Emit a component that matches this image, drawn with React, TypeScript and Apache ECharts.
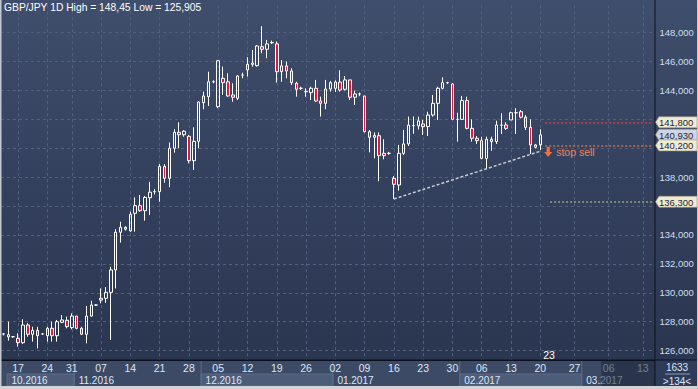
import React, { useEffect, useRef } from "react";
import * as echarts from "echarts";

// ---------- text ----------
const TITLE = "GBP/JPY 1D High = 148,45 Low = 125,905";
const BAR_COUNT_TOTAL = "1633";
const BAR_COUNT_VISIBLE = ">134<";

// ---------- calendar (categories) ----------
const FIRST_SESSION = "2016-10-13";
const LAST_SESSION = "2017-02-20";
const SKIPPED_SESSIONS = ["2016-10-30"];
const FIRST_PROJECTED_DAY = "2017-02-21";
const LAST_PROJECTED_DAY = "2017-03-15";

function dayList(from: string, to: string): string[] {
  const out: string[] = [];
  const d = new Date(from + "T00:00:00Z");
  const end = new Date(to + "T00:00:00Z");
  while (d <= end) {
    out.push(d.toISOString().slice(0, 10));
    d.setUTCDate(d.getUTCDate() + 1);
  }
  return out;
}
const weekday = (s: string) => new Date(s + "T00:00:00Z").getUTCDay();
const isMonday = (s: string) => weekday(s) === 1;

const sessionDates = dayList(FIRST_SESSION, LAST_SESSION).filter(
  (s) => weekday(s) !== 6 && !SKIPPED_SESSIONS.includes(s)
);
const projectedDates = dayList(FIRST_PROJECTED_DAY, LAST_PROJECTED_DAY);
const categories = [...sessionDates, ...projectedDates];

// ---------- OHLC ----------
const opens = [
  127.15, 126.95, 126.96, 126.85, 126.55, 127.77, 127.13, 127.4, 127.15, 127.03,
  127.54, 127.03, 127.95, 128.1, 127.59, 128.39, 127.54, 127.13, 128.39, 129.15,
  129.5, 129.62, 130.03, 131.58, 134.19, 134.53, 134.28, 135.5, 136.03, 135.68,
  136.58, 137.0, 137.0, 138.75, 137.92, 140.0, 141.1, 140.94, 140.83, 139.14,
  140.48, 143.16, 143.57, 144.6, 142.88, 144.84, 144.6, 143.69, 143.46, 145.07,
  145.42, 145.81, 145.72, 147.03, 146.85, 147.31, 147.22, 145.3, 145.7, 145.35,
  144.5, 144.15, 143.92, 143.85, 144.15, 143.27, 143.11, 144.1, 144.15, 144.58,
  144.08, 144.73, 143.53, 143.76, 143.62, 141.15, 140.76, 140.87, 139.65, 139.65,
  137.92, 137.46, 139.65, 140.3, 141.57, 141.55, 141.68, 141.5, 142.3, 143.11,
  144.15, 144.54, 144.45, 142.0, 142.0, 143.3, 141.38, 140.69, 140.53, 139.3,
  140.62, 140.46, 141.6, 141.61, 141.96, 142.46, 142.53, 142.15, 141.45, 140.23,
  140.23,
];
const closes = [
  127.15, 127.1, 126.96, 126.55, 127.77, 127.13, 127.4, 127.03, 127.15, 127.54,
  127.03, 128.0, 128.12, 127.66, 128.39, 127.54, 127.13, 128.39, 129.15, 129.15,
  129.62, 130.03, 131.58, 134.19, 134.53, 134.4, 135.43, 136.03, 135.68, 136.6,
  136.96, 137.0, 138.75, 137.92, 140.0, 141.1, 140.94, 141.18, 139.14, 140.48,
  143.2, 143.62, 144.6, 144.6, 146.06, 144.54, 143.62, 143.53, 145.0, 145.07,
  145.81, 145.9, 147.08, 146.85, 147.22, 147.31, 145.3, 145.7, 145.35, 144.54,
  144.08, 144.15, 143.92, 144.15, 143.27, 143.11, 144.1, 144.54, 144.58, 144.03,
  144.73, 143.53, 143.76, 143.76, 141.15, 140.76, 140.9, 139.49, 139.49, 139.65,
  137.51, 139.65, 140.3, 141.6, 141.57, 141.89, 141.5, 142.3, 143.11, 144.15,
  144.54, 144.54, 142.0, 142.0, 143.3, 141.38, 140.69, 140.53, 139.3, 140.62,
  140.46, 141.61, 141.6, 141.38, 142.46, 142.46, 142.15, 141.45, 140.23, 140.07,
  140.93,
];
const lows = [
  127.05, 126.69, 126.9, 126.27, 126.46, 126.96, 126.62, 126.15, 127.1, 126.62,
  126.62, 126.62, 127.9, 127.54, 127.47, 127.47, 127.08, 126.5, 128.35, 129.1,
  129.27, 129.3, 126.73, 130.3, 133.47, 134.3, 134.23, 134.23, 135.61, 134.99,
  135.38, 136.8, 136.3, 137.62, 137.3, 139.7, 140.0, 140.8, 138.96, 138.5,
  140.0, 142.7, 142.93, 144.5, 142.77, 143.69, 143.57, 143.22, 143.34, 144.84,
  144.96, 145.65, 145.65, 146.57, 146.23, 147.22, 144.54, 144.6, 144.84, 144.38,
  143.57, 144.03, 143.57, 143.34, 143.22, 142.19, 142.7, 143.92, 143.9, 143.92,
  143.99, 143.34, 143.0, 143.6, 141.1, 139.72, 139.3, 137.72, 139.24, 139.55,
  136.49, 137.07, 139.54, 140.16, 141.0, 141.3, 140.92, 140.85, 142.19, 141.96,
  144.08, 144.45, 141.96, 140.46, 141.96, 141.31, 140.46, 140.3, 139.24, 138.55,
  139.83, 140.3, 140.99, 141.27, 141.96, 140.99, 142.07, 141.27, 139.6, 139.99,
  139.88,
];
const highs = [
  127.2, 128.0, 127.0, 127.2, 128.17, 127.9, 127.65, 127.65, 127.2, 127.65,
  128.0, 128.12, 128.46, 128.35, 128.58, 128.39, 127.65, 129.08, 129.45, 129.2,
  130.3, 130.4, 131.8, 134.4, 134.92, 134.6, 135.61, 136.6, 136.77, 136.7,
  137.67, 137.17, 138.9, 138.9, 140.4, 141.31, 141.8, 141.25, 140.92, 141.45,
  143.25, 143.92, 145.3, 144.7, 146.1, 145.65, 145.19, 144.5, 145.07, 145.23,
  146.3, 146.8, 147.15, 148.45, 147.5, 147.45, 147.38, 146.1, 146.0, 145.54,
  144.6, 144.26, 144.15, 144.26, 144.73, 143.57, 144.73, 144.66, 144.7, 145.4,
  145.0, 144.73, 143.99, 143.85, 143.62, 141.27, 141.1, 141.1, 140.62, 139.75,
  138.08, 140.23, 141.27, 142.19, 142.2, 142.19, 141.96, 142.53, 143.69, 144.26,
  144.91, 144.6, 144.5, 142.46, 143.62, 143.57, 142.0, 140.85, 140.8, 140.8,
  140.8, 141.91, 142.42, 141.8, 142.53, 142.77, 142.65, 142.3, 142.0, 140.3,
  141.31,
];

// ---------- axis ticks / annotations ----------
const yTicks = [126, 128, 130, 132, 134, 136, 138, 140, 142, 144, 146, 148];
const priceTags = [
  { value: 141.8, fill: "#f0ebd0" },
  { value: 140.93, fill: "#cfd5e2" },
  { value: 140.2, fill: "#f0ebd0" },
  { value: 136.3, fill: "#f0ebd0" },
];
const levelLines = [
  { value: 141.8, from: "2017-02-21", color: "#d23a3a" },
  { value: 140.2, from: "2017-02-21", color: "#c4704e" },
  { value: 136.3, from: "2017-02-22", color: "#95a378" },
];
const trendStart = { date: "2017-01-16", price: 136.49 };
const trendEnd = { date: "2017-02-20", price: 139.8 };
const stopSell = { date: "2017-02-21", price: 139.75, text: "stop sell" };
const cursorMark = { date: "2017-02-22", text: "23" };
const monthBands = [
  { label: "10.2016", start: "2016-10-13" },
  { label: "11.2016", start: "2016-11-01" },
  { label: "12.2016", start: "2016-12-01" },
  { label: "01.2017", start: "2017-01-02" },
  { label: "02.2017", start: "2017-02-01" },
  { label: "03.2017", start: "2017-03-01" },
];
const shadeFrom = "2017-03-05";

// ---------- layout ----------
const W = 698;
const H = 389;
const PLOT_RIGHT = 655;
const AXIS_Y = 360;
const PANEL_BOTTOM = 386;
const FONT = '"Liberation Sans", Arial, sans-serif';

const fmtPrice = (v: number) => v.toFixed(3).replace(".", ",");
// a tick label that lies under a price tag is hidden by it in the reference
const coveredByTag = (v: number) => priceTags.some((t) => Math.abs(t.value - v) < 0.6);

export default function App() {
  const ref = useRef<HTMLDivElement>(null);

  useEffect(() => {
    if (!ref.current) return;
    const chart = echarts.init(ref.current, undefined, { renderer: "svg" });

    const candleData = sessionDates.map((d, i) => [opens[i], closes[i], lows[i], highs[i]]);
    const lastCat = categories[categories.length - 1];

    const markLines: any[] = levelLines.map((l) => [
      {
        coord: [l.from, l.value],
        lineStyle: { color: l.color, type: [2, 2], width: 1.5 },
      },
      { coord: [lastCat, l.value] },
    ]);
    markLines.push([
      {
        coord: [trendStart.date, trendStart.price],
        lineStyle: { color: "#c6cbd5", type: [3, 2], width: 1.5 },
      },
      { coord: [trendEnd.date, trendEnd.price] },
    ]);

    const option: any = {
      animation: false,
      textStyle: { fontFamily: FONT },
      title: {
        text: TITLE,
        left: 4,
        top: 2,
        padding: 0,
        textStyle: { color: "#ffffff", fontSize: 10.3, fontWeight: "normal", fontFamily: FONT },
      },
      grid: { left: 1, right: W - PLOT_RIGHT, top: 5.2, bottom: 9.5, containLabel: false },
      xAxis: [
        {
          type: "category",
          data: categories,
          position: "bottom",
          boundaryGap: true,
          z: 0,
          axisLine: { show: false },
          axisTick: { show: false },
          axisLabel: { show: false },
          splitLine: {
            show: true,
            interval: (_i: number, v: string) => isMonday(v),
            alignWithLabel: true,
            lineStyle: { color: "#51607e", type: [3, 3], width: 1 },
          },
        },
        {
          type: "category",
          data: categories,
          position: "bottom",
          boundaryGap: true,
          offset: -19.5,
          z: 20,
          axisLine: { show: true, lineStyle: { color: "#0c111c", width: 1 } },
          axisTick: { show: false },
          axisLabel: {
            interval: (_i: number, v: string) => isMonday(v),
            formatter: (v: string) => v.slice(8, 10),
            color: "#dce6f4",
            fontSize: 10.5,
            margin: 2.5,
            fontFamily: FONT,
          },
          splitLine: { show: false },
        },
      ],
      yAxis: {
        type: "value",
        position: "right",
        min: yTicks[0] - 2,
        max: 149.9,
        interval: 2,
        z: 0,
        axisLine: { show: false },
        axisTick: { show: false },
        axisLabel: {
          showMinLabel: false,
          showMaxLabel: false,
          formatter: (v: number) => (yTicks.includes(v) && !coveredByTag(v) ? fmtPrice(v) : ""),
          color: "#cfdff3",
          fontSize: 9.5,
          margin: 4.5,
          fontFamily: FONT,
        },
        splitLine: {
          show: true,
          showMinLine: false,
          showMaxLine: false,
          lineStyle: { color: "#51607e", type: [3, 3], width: 1 },
        },
      },
      series: [
        {
          type: "candlestick",
          xAxisIndex: 0,
          yAxisIndex: 0,
          data: candleData,
          barWidth: 3,
          itemStyle: {
            color: "transparent",
            color0: "#e5173e",
            borderColor: "#ffffff",
            borderColor0: "#ffffff",
            borderWidth: 1,
          },
          markLine: {
            silent: true,
            symbol: ["none", "none"],
            label: { show: false },
            data: markLines,
          },
          markPoint: {
            silent: true,
            data: [
              {
                coord: [stopSell.date, stopSell.price],
                symbol: "path://M3,0L7,0L7,5L10,5L5,10L0,5L3,5Z",
                symbolSize: [8, 10],
                symbolOffset: [3, 0],
                itemStyle: { color: "#f0703f" },
                label: {
                  show: true,
                  position: "right",
                  distance: 4,
                  formatter: stopSell.text,
                  color: "#f2805e",
                  fontSize: 10.5,
                  fontFamily: FONT,
                },
              },
            ],
          },
        },
      ],
    };
    chart.setOption(option);

    // ---------- decorations positioned through the chart's own scales ----------
    const px = (d: string) => chart.convertToPixel({ xAxisIndex: 0 }, d) as number;
    const py = (v: number) => chart.convertToPixel({ yAxisIndex: 0 }, v) as number;
    const slot = px(categories[1]) - px(categories[0]);

    const g: any[] = [];
    // bottom panel
    g.push({
      type: "rect",
      z: 10,
      shape: { x: 0, y: AXIS_Y, width: PLOT_RIGHT, height: PANEL_BOTTOM - AXIS_Y },
      style: { fill: "#3c4a66" },
    });
    monthBands.forEach((m, i) => {
      let x0 = px(m.start) - slot / 2;
      if (i === 0) x0 += 6;
      const x1 = i < monthBands.length - 1 ? px(monthBands[i + 1].start) - slot / 2 : PLOT_RIGHT;
      if (i % 2 === 0) {
        g.push({
          type: "rect",
          z: 11,
          shape: { x: x0, y: 374, width: x1 - x0, height: 12 },
          style: { fill: "#4d5c79", stroke: "#5d6c88", lineWidth: 1 },
        });
      }
      if (i > 0) {
        g.push({
          type: "line",
          z: 12,
          shape: { x1: x0, y1: AXIS_Y + 1, x2: x0, y2: PANEL_BOTTOM },
          style: { stroke: "#5b6a86", lineWidth: 1 },
        });
      }
      g.push({
        type: "text",
        z: 21,
        x: x0 + 4.5,
        y: 380.5,
        style: {
          text: m.label,
          fill: "#dce6f4",
          font: `10px ${FONT}`,
          align: "left",
          verticalAlign: "middle",
          textAlign: "left",
          textVerticalAlign: "middle",
        },
      });
    });
    // dimmed projection area
    const sx = px(shadeFrom) - slot / 2;
    g.push({
      type: "rect",
      z: 25,
      shape: { x: sx, y: AXIS_Y + 1, width: PLOT_RIGHT - sx, height: PANEL_BOTTOM - AXIS_Y - 1 },
      style: { fill: "rgba(28,36,56,0.55)" },
    });
    // cursor day mark
    g.push({
      type: "text",
      z: 15,
      x: px(cursorMark.date) - 1,
      y: 355,
      style: {
        text: cursorMark.text,
        fill: "#ffffff",
        font: `10.5px ${FONT}`,
        align: "center",
        verticalAlign: "middle",
        textAlign: "center",
        textVerticalAlign: "middle",
      },
    });
    // right separator and corner box
    g.push({
      type: "rect",
      z: 30,
      shape: { x: PLOT_RIGHT, y: AXIS_Y, width: W - PLOT_RIGHT, height: PANEL_BOTTOM - AXIS_Y },
      style: { fill: "#2f3c59" },
    });
    g.push({
      type: "line",
      z: 31,
      shape: { x1: 665, y1: 374, x2: 690, y2: 374 },
      style: { stroke: "#8d9ab5", lineWidth: 1 },
    });
    [BAR_COUNT_TOTAL, BAR_COUNT_VISIBLE].forEach((t, i) => {
      g.push({
        type: "text",
        z: 31,
        x: 677,
        y: i === 0 ? 367 : 381,
        style: {
          text: t,
          fill: "#dce6f4",
          font: `10px ${FONT}`,
          align: "center",
          verticalAlign: "middle",
          textAlign: "center",
          textVerticalAlign: "middle",
        },
      });
    });
    g.push({
      type: "line",
      z: 32,
      shape: { x1: PLOT_RIGHT, y1: 0, x2: PLOT_RIGHT, y2: PANEL_BOTTOM },
      style: { stroke: "#0b1020", lineWidth: 1 },
    });
    g.push({
      type: "line",
      z: 32,
      shape: { x1: 0, y1: AXIS_Y, x2: W, y2: AXIS_Y },
      style: { stroke: "#0b1020", lineWidth: 1 },
    });
    // price tags
    priceTags.forEach((t) => {
      const y = py(t.value);
      g.push({
        type: "polygon",
        z: 35,
        shape: {
          points: [
            [PLOT_RIGHT + 0.5, y],
            [PLOT_RIGHT + 4, y - 5.5],
            [W - 1, y - 5.5],
            [W - 1, y + 5.5],
            [PLOT_RIGHT + 4, y + 5.5],
          ],
        },
        style: { fill: t.fill, stroke: "#9c9a86", lineWidth: 0.6 },
      });
      g.push({
        type: "text",
        z: 36,
        x: 659,
        y: y + 0.5,
        style: {
          text: fmtPrice(t.value),
          fill: "#1c2640",
          font: `9.5px ${FONT}`,
          align: "left",
          verticalAlign: "middle",
          textAlign: "left",
          textVerticalAlign: "middle",
        },
      });
    });
    // outer frame
    g.push({ type: "rect", z: 40, shape: { x: 0, y: 0, width: 1.5, height: H }, style: { fill: "#c4c8cf" } });
    g.push({ type: "rect", z: 40, shape: { x: 0, y: PANEL_BOTTOM, width: W, height: H - PANEL_BOTTOM }, style: { fill: "#d3d3d3" } });
    g.push({ type: "rect", z: 40, shape: { x: W - 1, y: 0, width: 1, height: H }, style: { fill: "#c4c8cf" } });

    chart.setOption({ graphic: g });

    return () => chart.dispose();
  }, []);

  return (
    <div
      ref={ref}
      style={{
        position: "absolute",
        left: 0,
        top: 0,
        width: W,
        height: H,
        background: "linear-gradient(180deg, #3f4e6c 0%, #34415e 45%, #29344e 100%)",
      }}
    />
  );
}
